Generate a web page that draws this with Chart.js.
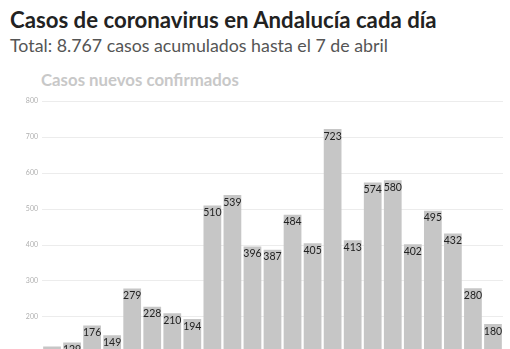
<!DOCTYPE html>
<html>
<head>
<meta charset="utf-8">
<script src="https://cdn.jsdelivr.net/npm/chart.js@4/dist/chart.umd.min.js"></script>
<style>
	html, body { margin: 0; padding: 0; background: #fff; overflow: hidden; }
	body { width: 510px; height: 349px; position: relative; font-family: Lato, sans-serif; }
	#titulo { position: absolute; left: 10px; top: 6px; font-size: 22.2px; font-weight: bold; color: #222; white-space: nowrap; }
	#subtitulo { position: absolute; left: 10px; top: 34px; font-size: 17.8px; color: #555; white-space: nowrap; }
	#serie { position: absolute; left: 41px; top: 69px; font-size: 16.8px; font-weight: bold; color: #c8c8c8; white-space: nowrap; }
	#caja { position: absolute; left: 0; top: 93px; width: 510px; height: 304px; }
</style>
</head>
<body>
<div id="titulo">Casos de coronavirus en Andalucía cada día</div>
<div id="subtitulo">Total: 8.767 casos acumulados hasta el 7 de abril</div>
<div id="serie">Casos nuevos confirmados</div>
<div id="caja"><canvas id="grafico"></canvas></div>
<script>
'use strict';

// dias (16 marzo - 7 abril)
var dias = ['16 mar', '17 mar', '18 mar', '19 mar', '20 mar', '21 mar', '22 mar', '23 mar',
	'24 mar', '25 mar', '26 mar', '27 mar', '28 mar', '29 mar', '30 mar', '31 mar',
	'1 abr', '2 abr', '3 abr', '4 abr', '5 abr', '6 abr', '7 abr'];

// casos nuevos confirmados
var casos = [118, 129, 176, 149, 279, 228, 210, 194, 510, 539, 396, 387,
	484, 405, 723, 413, 574, 580, 402, 495, 432, 280, 180];

var marcasY = [0, 100, 200, 300, 400, 500, 600, 700, 800];

// etiquetas dentro de cada barra
var etiquetas = {
	id: 'etiquetas',
	afterDatasetsDraw: function(chart) {
		var ctx = chart.ctx;
		var meta = chart.getDatasetMeta(0);
		ctx.save();
		ctx.font = '10.5px Lato, sans-serif';
		ctx.fillStyle = '#222';
		ctx.textAlign = 'center';
		ctx.textBaseline = 'top';
		meta.data.forEach(function(bar, i) {
			ctx.fillText(casos[i], bar.x, bar.y + 2);
		});
		ctx.restore();
	}
};

window.onload = function() {
	var ctx = document.getElementById('grafico');
	new Chart(ctx, {
		type: 'bar',
		data: {
			labels: dias,
			datasets: [{
				data: casos,
				backgroundColor: '#c6c6c6',
				barPercentage: 0.885,
				categoryPercentage: 1
			}]
		},
		options: {
			responsive: true,
			maintainAspectRatio: false,
			animation: false,
			layout: { padding: { left: 7, right: 7, top: 0, bottom: 0 } },
			plugins: {
				legend: { display: false },
				tooltip: { enabled: false }
			},
			scales: {
				x: {
					ticks: { display: false },
					grid: { display: false },
					border: { display: false }
				},
				y: {
					min: 0,
					max: 800,
					afterBuildTicks: function(scale) {
						scale.ticks = marcasY.map(function(v) { return { value: v }; });
					},
					afterFit: function(scale) { scale.width = 35; },
					ticks: {
						color: '#b0b0b0',
						font: { family: 'Lato', size: 7 },
						padding: 4
					},
					grid: { color: '#ececec', drawTicks: false },
					border: { display: false }
				}
			}
		},
		plugins: [etiquetas]
	});
};
</script>
</body>
</html>
